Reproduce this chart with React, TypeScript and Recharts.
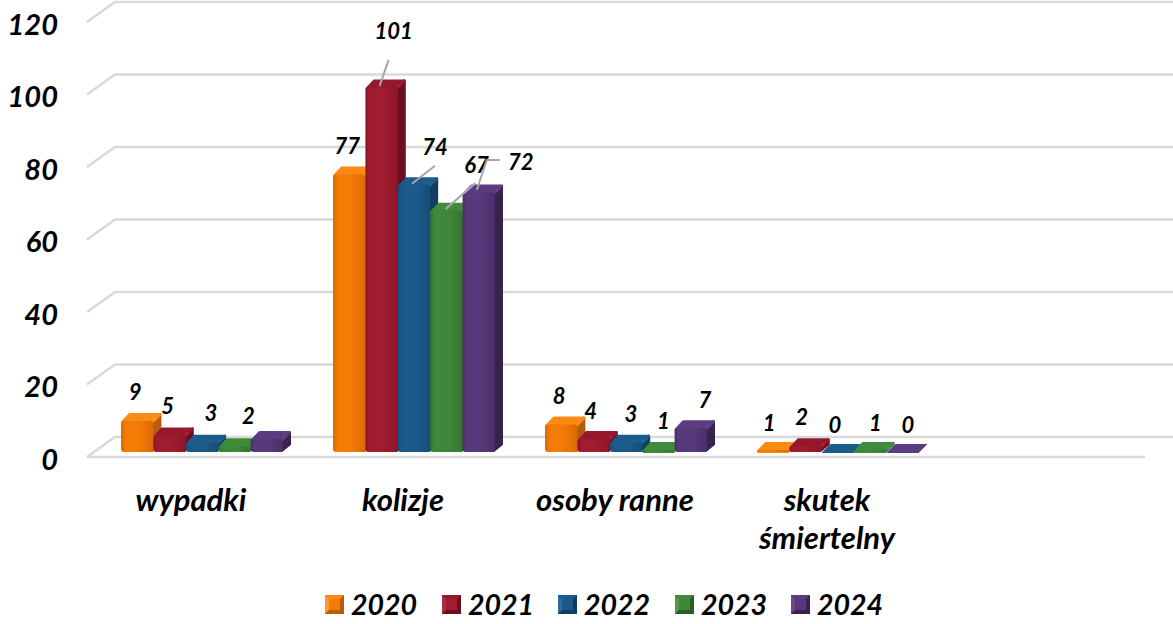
import React from 'react';
import { BarChart, Bar, XAxis, YAxis, CartesianGrid, Legend, LabelList } from 'recharts';

const categories = ['wypadki', 'kolizje', 'osoby ranne', 'skutek śmiertelny', ''];
const years = ['2020', '2021', '2022', '2023', '2024'];
const values2020 = [9, 77, 8, 1, null];
const values2021 = [5, 101, 4, 2, null];
const values2022 = [3, 74, 3, 0, null];
const values2023 = [2, 67, 1, 1, null];
const values2024 = [4, 72, 7, 0, null];
const yTicks = [0, 20, 40, 60, 80, 100, 120];
const allValues = [values2020, values2021, values2022, values2023, values2024];

const chartData = categories.map((name, i) => {
  const row: Record<string, any> = { name };
  years.forEach((y, s) => { row[y] = allValues[s][i]; });
  return row;
});

const FONT = 'Lato, "Open Sans", sans-serif';
const DX = 9;
const DY = 9;

const palette = [
  { light: '#FF9A2E', front: '#F47C06', dark: '#D96A04', top: '#F98A14', side: '#B75C0C' },
  { light: '#B02A3E', front: '#A01D30', dark: '#8C1628', top: '#96182C', side: '#6A101D' },
  { light: '#2A6C9C', front: '#1B5B8B', dark: '#164E78', top: '#1A5C8C', side: '#113E60' },
  { light: '#4F9A4A', front: '#3F873B', dark: '#347432', top: '#3F8A3B', side: '#285C28' },
  { light: '#6A4A8E', front: '#583A7C', dark: '#4A2F6A', top: '#5A3C80', side: '#38234F' },
];

// label centre relative to the middle of the bar's front top edge
const labelOffsets: ([number, number] | null)[][] = [
  [[-2, -28], [-2, -27], [-2, -28], [-4, -26]],
  [[-2, -28], [12, -55], [-3, -27], [-4, -28]],
  [[9, -29], [21, -37], [5, -28], [-3, -28]],
  [[14, -29], [30, -45], [5, -28], [5, -26]],
  [null, [42, -30], [14, -27], [5, -28]],
];
const leaders: Record<string, [number, number][]> = {
  '1-1': [[-2, 0], [7, -26]],
  '2-1': [[-2, 0], [21, -18]],
  '3-1': [[-1, 0], [29, -26]],
  '4-1': [[-2, -1], [8, -31], [21, -31]],
};

const Bar3D = (s: number) => (props: any) => {
  const { x, width } = props;
  if (x == null || props.y == null || props.value == null) return null;
  const c = palette[s];
  const b = props.y + props.height;
  const y = props.y + Math.min(1.5, props.height);
  const height = b - y;
  const r = x + width;
  const round = height > 2;
  const ins = round ? 1.5 : 0.5;
  const join = { strokeLinejoin: 'round' as const, strokeWidth: ins * 2 };
  return (
    <g style={{ filter: 'blur(0.5px)' }}>
      <polygon
        points={`${r - ins},${y + ins} ${r + DX - 1 - ins},${y - DY + 1 + ins} ${r + DX - 1 - ins},${b - DY + 1} ${r - ins},${b - ins}`}
        fill={c.side}
        stroke={c.side}
        {...join}
      />
      <polygon
        points={`${x + ins},${y + ins} ${x + DX},${y - DY + 1 + ins} ${r + DX - 1 - ins},${y - DY + 1 + ins} ${r - ins},${y + ins}`}
        fill={c.top}
        stroke={c.top}
        {...join}
      />
      {height > 0 && (
        <rect x={x} y={y} width={width} height={height} rx={3} fill={`url(#front${s})`} />
      )}
      {round && <circle cx={r + 1} cy={y - 2} r={1.6} fill={c.light} opacity={0.7} />}
    </g>
  );
};

const DataLabel = (s: number) => (props: any) => {
  const { x, y, width, index, value } = props;
  const off = labelOffsets[s]?.[index];
  if (!off || value == null) return null;
  const cx = x + width / 2;
  const line = leaders[`${s}-${index}`];
  return (
    <g>
      {line && (
        <polyline
          points={line.map(([a, b]) => `${cx + a},${y + b}`).join(' ')}
          fill="none"
          stroke="#A6A6A6"
          strokeWidth={2}
        />
      )}
      <text
        x={cx + off[0]}
        y={y + off[1]}
        textAnchor="middle"
        dominantBaseline="central"
        fontFamily={FONT}
        fontWeight={700}
        fontStyle="italic"
        fontSize={22}
        fill="#000"
      >
        {value}
      </text>
    </g>
  );
};

const XTick = (props: any) => {
  const { x, payload } = props;
  const text: string = payload.value;
  const lines = text.length > 12 ? text.split(' ') : [text];
  return (
    <text
      x={x - 11}
      fontFamily={FONT}
      fontWeight={700}
      fontStyle="italic"
      fontSize={31}
      fill="#000"
      textAnchor="middle"
    >
      {lines.map((l, i) => (
        <tspan key={i} x={x - 11} y={511 + i * 38}>{l}</tspan>
      ))}
    </text>
  );
};

const YTick = (props: any) => {
  const { y, payload } = props;
  return (
    <text
      x={58}
      y={y + 6}
      textAnchor="end"
      dominantBaseline="central"
      fontFamily={FONT}
      fontWeight={700}
      fontStyle="italic"
      fontSize={29}
      fill="#000"
    >
      {payload.value}
    </text>
  );
};

const gridLine = (props: any) => {
  const { x1, x2, y1, index } = props;
  const isBase = Math.abs(y1 - 452) < 1;
  return (
    <g key={`g-${index}-${y1}`}>
      <polyline
        points={`${x1 - 9},${y1 + 5} ${x1 + 19},${y1 - 15} ${x2 + 17},${y1 - 15}`}
        fill="none"
        stroke="#D9D9D9"
        strokeWidth={2.5}
      />
      {isBase && <line x1={x1 - 9} y1={y1 + 5} x2={x2 - 11} y2={y1 + 5} stroke="#D9D9D9" strokeWidth={2.5} />}
    </g>
  );
};

const LegendContent = () => (
  <div style={{ position: 'relative', height: 40, width: 1173 }}>
    {years.map((y, s) => {
      const c = palette[s];
      return (
        <div key={y} style={{ position: 'absolute', left: [325, 442, 558, 675, 791][s], top: 0, height: 40, display: 'flex', alignItems: 'center' }}>
          <svg width={19} height={19} style={{ marginRight: 7, display: 'block' }}>
            <rect width={19} height={19} fill={c.side} />
            <polygon points="0,0 19,0 15,4 4,4" fill={c.top} />
            <polygon points="0,0 4,4 4,15 0,19" fill={c.light} />
            <rect x={4} y={4} width={11} height={11} fill={c.front} />
          </svg>
          <span style={{ fontFamily: FONT, fontWeight: 700, fontStyle: 'italic', fontSize: 28.5, color: '#000', lineHeight: '40px' }}>{y}</span>
        </div>
      );
    })}
  </div>
);

export default function App() {
  return (
    <div style={{ position: 'absolute', left: 0, top: 0, width: 1173, height: 624, overflow: 'hidden', background: '#fff' }}>
      <BarChart
        width={1173}
        height={624}
        data={chartData}
        margin={{ top: 17, right: 17, bottom: 0, left: 0 }}
        barSize={32.4}
        barGap={0}
      >
        <defs>
          {palette.map((c, s) => (
            <linearGradient key={s} id={`front${s}`} x1="0" y1="0" x2="1" y2="0">
              <stop offset="0" stopColor={c.dark} />
              <stop offset="0.15" stopColor={c.front} />
              <stop offset="0.55" stopColor={c.front} />
              <stop offset="1" stopColor={c.dark} />
            </linearGradient>
          ))}
        </defs>
        <CartesianGrid vertical={false} horizontal={gridLine} />
        <XAxis dataKey="name" axisLine={false} tickLine={false} height={132} tick={<XTick />} interval={0} />
        <YAxis domain={[0, 120]} ticks={yTicks} width={96} axisLine={false} tickLine={false} tick={<YTick />} />
        <Legend verticalAlign="bottom" height={40} wrapperStyle={{ left: 0, width: 1173, bottom: 0 }} content={<LegendContent />} />
        {years.map((y, s) => (
          <Bar key={y} dataKey={y} shape={Bar3D(s)} fill={palette[s].front} isAnimationActive={false}>
            <LabelList dataKey={y} content={DataLabel(s)} />
          </Bar>
        ))}
      </BarChart>
    </div>
  );
}
